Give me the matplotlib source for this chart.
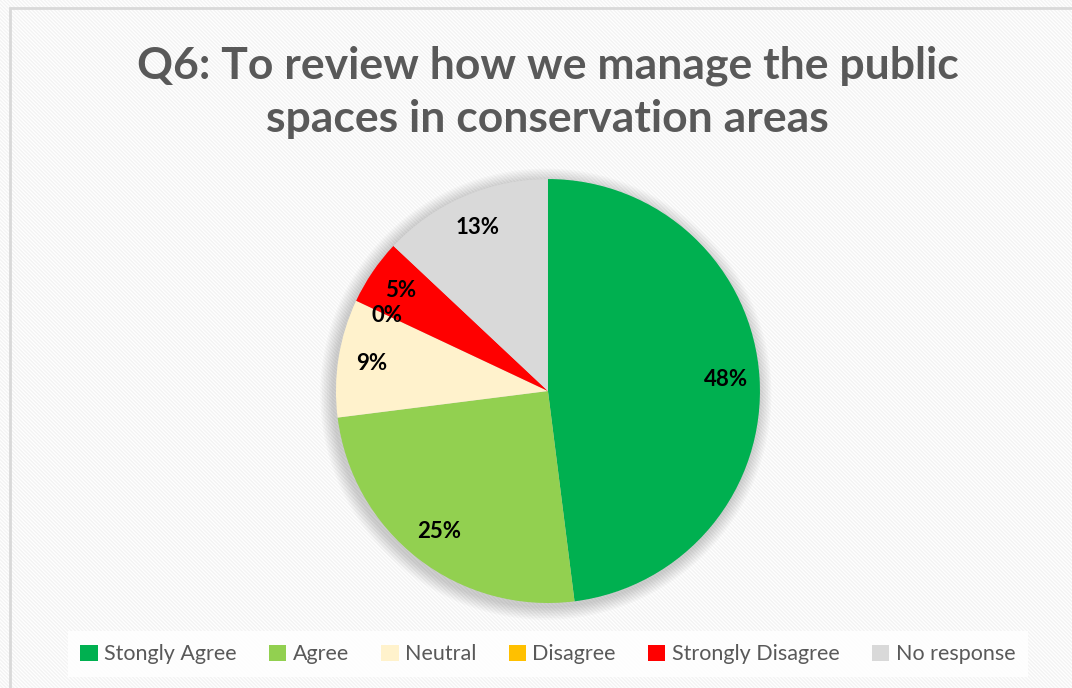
import matplotlib
matplotlib.use('Agg')
import matplotlib.pyplot as plt
from matplotlib.patches import Rectangle, Patch, Circle

# Datos del gráfico
categorias = ['Stongly Agree', 'Agree', 'Neutral', 'Disagree', 'Strongly Disagree', 'No response']
valores = [48, 25, 9, 0, 5, 13]
colores = ['#00B050', '#92D050', '#FFF2CC', '#FFC000', '#FF0000', '#D9D9D9']
titulo = 'Q6: To review how we manage the public\nspaces in conservation areas'

plt.rcParams['font.family'] = ['Lato', 'DejaVu Sans']
plt.rcParams['hatch.linewidth'] = 1.0
plt.rcParams['hatch.color'] = '#f3f3f3'

fig = plt.figure(figsize=(10.72, 6.88), dpi=100)

# Fondo rayado y borde
fig.patches.append(Rectangle((0, 0), 1, 1, transform=fig.transFigure, facecolor='white',
                             edgecolor='#f3f3f3', hatch='\\' * 9, linewidth=0, zorder=-10))
fig.patches.append(Rectangle((10 / 1072, -0.05), 1.05, 1 - 8 / 688 + 0.05, transform=fig.transFigure,
                             facecolor='none', edgecolor='#d9d9d9', linewidth=2, zorder=-5))

ax = fig.add_axes([0.3134, 0.1235, 0.3955, 0.6163])

# Sombra suave alrededor del pastel
for i in range(8):
    r = 1.0 + 0.008 * (8 - i)
    c = Circle((-0.01, -0.015), r, facecolor='#000000', alpha=0.025, linewidth=0, zorder=0)
    c.set_clip_on(False)
    ax.add_patch(c)

wedges, textos, pcts = ax.pie(valores, colors=colores, startangle=90, counterclock=False,
                              radius=1.0, autopct='%.0f%%', pctdistance=0.84,
                              wedgeprops={'linewidth': 0},
                              textprops={'fontsize': 16, 'fontweight': 'bold', 'color': 'black'})
for w in wedges:
    w.set_zorder(2)
    w.set_clip_on(False)
for t in pcts:
    t.set_zorder(3)

ax.set_xlim(-1, 1)
ax.set_ylim(-1, 1)
ax.set_aspect('equal')
ax.axis('off')

fig.text(0.511, 0.866, titulo, ha='center', va='center', fontsize=32, fontweight='bold',
         color='#595959', linespacing=1.4)

handles = [Patch(facecolor=c, edgecolor='none') for c in colores]
leg = fig.legend(handles, categorias, loc='center', bbox_to_anchor=(0.511, 0.049), ncol=6,
                 frameon=True, fontsize=15.5, handlelength=0.8, handleheight=0.8, handletextpad=0.3,
                 columnspacing=1.5, borderpad=0.6, fancybox=False)
leg.get_frame().set_facecolor('white')
leg.get_frame().set_edgecolor('none')
leg.get_frame().set_alpha(0.85)
for t in leg.get_texts():
    t.set_color('#595959')

fig.savefig('out.png', dpi=100)
